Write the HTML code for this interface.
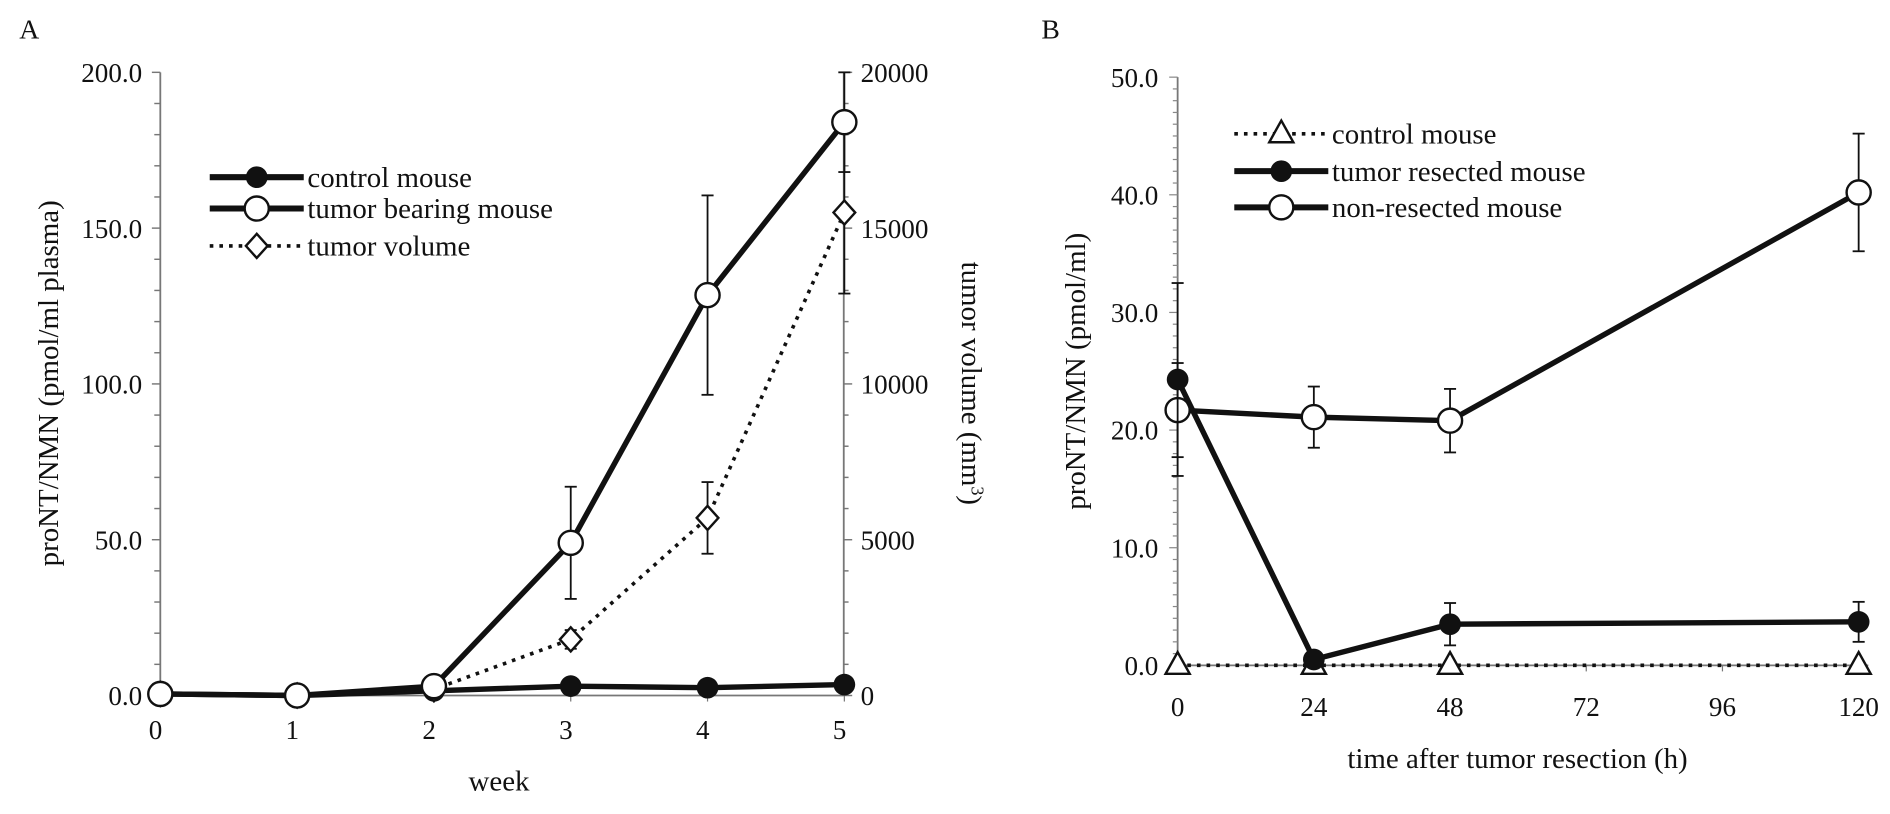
<!DOCTYPE html>
<html><head><meta charset="utf-8"><style>
body{margin:0;background:#fff}
svg{display:block}
svg text{font-family:"Liberation Serif",serif;fill:#111}
</style></head><body>
<svg id="c" width="1890" height="814" viewBox="0 0 1568 675.3" xmlns="http://www.w3.org/2000/svg"></svg>
<script>
// Panel A data
const weeks=[0,1,2,3,4,5];
const ctrlA=[0.5,0,1.5,3,2.5,3.5];
const ctrlAErr=[0,0,0,0,0,0];
const tumorA=[0.5,0,3,49,128.5,184];
const tumorAErr=[0,0,0,18,32,16];
const volA=[50,0,200,1800,5700,15500];
const volAErr=[0,0,0,300,1150,2600];
const yTicksA=["0.0","50.0","100.0","150.0","200.0"];
const y2TicksA=["0","5000","10000","15000","20000"];
// Panel B data
const hours=[0,24,48,120];
const ctrlB=[0,0,0,0];
const resB=[24.3,0.5,3.5,3.7];
const resBErr=[8.2,0,1.8,1.7];
const nonB=[21.7,21.1,20.8,40.2];
const nonBErr=[4,2.6,2.7,5];
const xTicksB=[0,24,48,72,96,120];
const yTicksB=["0.0","10.0","20.0","30.0","40.0","50.0"];

const svg=document.getElementById('c');
const NS="http://www.w3.org/2000/svg";
function el(t,a,p){const e=document.createElementNS(NS,t);for(const k in a)e.setAttribute(k,a[k]);(p||svg).appendChild(e);return e;}
function txt(s,a,p){const e=el('text',a,p);e.textContent=s;return e;}

const xA=v=>133+v*113.5, yA=v=>577-v*(517/200), y2A=v=>577-v*(517/20000);
const xB=v=>977+v*(565/120), yB=v=>552-v*(488/50);
const TF=22.5, AF=24, LF=24;

// ---- Panel A ----
const gA=el('g',{});


txt('A',{x:16,y:32,'font-size':23},gA);
el('line',{x1:133,y1:60,x2:133,y2:577,stroke:'#777','stroke-width':1.5},gA);
el('line',{x1:700,y1:60,x2:700,y2:577,stroke:'#777','stroke-width':1.5},gA);
el('line',{x1:133,y1:577,x2:700,y2:577,stroke:'#777','stroke-width':1.5},gA);
for(let v=0;v<=200;v+=10){const y=yA(v);el('line',{x1:v%50?128:126,y1:y,x2:133,y2:y,stroke:'#777','stroke-width':1.2},gA);}
for(let v=0;v<=20000;v+=1000){const y=y2A(v);el('line',{x1:700,y1:y,x2:v%5000?704:707,y2:y,stroke:'#777','stroke-width':1.2},gA);}
yTicksA.forEach((s,i)=>{const t=txt(s,{x:118,y:yA(i*50)+8,'text-anchor':'end','font-size':TF},gA);});
y2TicksA.forEach((s,i)=>{const t=txt(s,{x:714,y:y2A(i*5000)+8,'font-size':TF},gA);});
weeks.forEach(w=>{el('line',{x1:xA(w),y1:577,x2:xA(w),y2:582,stroke:'#777'},gA);const t=txt(String(w),{x:xA(w)-4,y:613,'text-anchor':'middle','font-size':TF},gA);});
let t=txt('week',{x:414,y:656,'text-anchor':'middle','font-size':AF},gA);
t=txt('proNT/NMN (pmol/ml plasma)',{transform:'translate(48,318) rotate(-90)','text-anchor':'middle','font-size':AF},gA);
t=el('text',{transform:'translate(798,318) rotate(90)','text-anchor':'middle','font-size':AF},gA);t.innerHTML='tumor volume (mm<tspan dy="-8" font-size="15">3</tspan><tspan dy="8">)</tspan>';

function series(g,xs,ys,errs,xf,yf,opts,name){
  const sg=el('g',{},g);
  
  
  xs.forEach((x,i)=>{if(errs&&errs[i]>0){const X=xf(x);el('line',{x1:X,y1:yf(ys[i]-errs[i]),x2:X,y2:yf(ys[i]+errs[i]),stroke:'#111','stroke-width':1.5},sg);[ys[i]-errs[i],ys[i]+errs[i]].forEach(v=>el('line',{x1:X-5,y1:yf(v),x2:X+5,y2:yf(v),stroke:'#111','stroke-width':1.5},sg));}});
  el('polyline',{points:xs.map((x,i)=>xf(x)+','+yf(ys[i])).join(' '),fill:'none',stroke:'#111','stroke-width':opts.dash?3:4.5,'stroke-dasharray':opts.dash?'3,5':'none'},sg);
  xs.forEach((x,i)=>marker(sg,opts.m,xf(x),yf(ys[i])));
}
function marker(g,m,X,Y){
  let e;
  if(m==='fc')e=el('circle',{cx:X,cy:Y,r:9,fill:'#111'},g);
  else if(m==='oc')e=el('circle',{cx:X,cy:Y,r:10,fill:'#fff',stroke:'#111','stroke-width':2},g);
  else if(m==='d')e=el('polygon',{points:`${X},${Y-10} ${X+9},${Y} ${X},${Y+10} ${X-9},${Y}`,fill:'#fff',stroke:'#111','stroke-width':2},g);
  else e=el('polygon',{points:`${X},${Y-11} ${X+10},${Y+7} ${X-10},${Y+7}`,fill:'#fff',stroke:'#111','stroke-width':2},g);
  
  
}
series(gA,weeks,ctrlA,ctrlAErr,xA,yA,{m:'fc'},'series-control-mouse');
series(gA,weeks,volA,volAErr,xA,y2A,{m:'d',dash:1},'series-tumor-volume');
series(gA,weeks,tumorA,tumorAErr,xA,yA,{m:'oc'},'series-tumor-bearing-mouse');

function legend(g,x,y,m,dash,label){
  const lg=el('g',{},g);
  
  
  el('line',{x1:x,y1:y,x2:x+78,y2:y,stroke:'#111','stroke-width':dash?3:5,'stroke-dasharray':dash?'3,5':'none'},lg);
  marker(lg,m,x+39,y);
  txt(label,{x:x+81,y:y+8,'font-size':LF},lg);
}
legend(gA,174,147,'fc',0,'control mouse');
legend(gA,174,173,'oc',0,'tumor bearing mouse');
legend(gA,174,204,'d',1,'tumor volume');

// ---- Panel B ----
const gB=el('g',{});


txt('B',{x:864,y:32,'font-size':23},gB);
el('line',{x1:977,y1:64,x2:977,y2:552,stroke:'#777','stroke-width':1.5},gB);
el('line',{x1:977,y1:552,x2:1550,y2:552,stroke:'#777','stroke-width':1.5},gB);
for(let v=0;v<=50;v+=1){const y=yB(v);el('line',{x1:v%10?973:970,y1:y,x2:977,y2:y,stroke:'#888','stroke-width':1},gB);}
yTicksB.forEach((s,i)=>{const t=txt(s,{x:961,y:yB(i*10)+8,'text-anchor':'end','font-size':TF},gB);});
xTicksB.forEach(h=>{el('line',{x1:xB(h),y1:552,x2:xB(h),y2:557,stroke:'#777'},gB);const t=txt(String(h),{x:xB(h),y:594,'text-anchor':'middle','font-size':TF},gB);});
t=txt('time after tumor resection (h)',{x:1259,y:637,'text-anchor':'middle','font-size':AF},gB);
t=txt('proNT/NMN (pmol/ml)',{transform:'translate(900,308) rotate(-90)','text-anchor':'middle','font-size':AF},gB);
series(gB,hours,ctrlB,null,xB,yB,{m:'t',dash:1},'series-control-mouse');
series(gB,hours,nonB,nonBErr,xB,yB,{m:'oc'},'series-non-resected-mouse');
series(gB,hours,resB,resBErr,xB,yB,{m:'fc'},'series-tumor-resected-mouse');
legend(gB,1024,111,'t',1,'control mouse');
legend(gB,1024,142,'fc',0,'tumor resected mouse');
legend(gB,1024,172,'oc',0,'non-resected mouse');
</script>
</body></html>
